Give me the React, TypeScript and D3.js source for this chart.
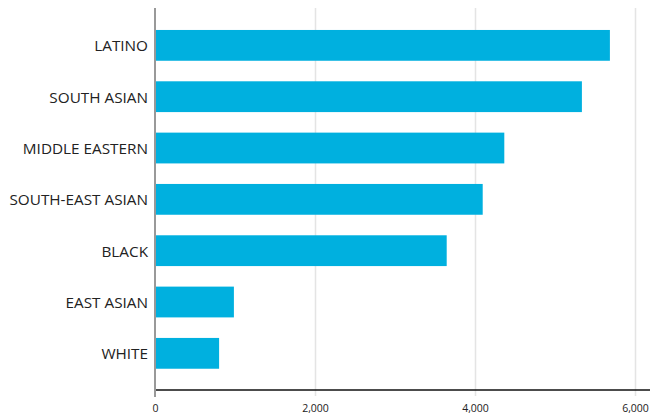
import React from "react";
import * as d3 from "d3";

const categories = ["LATINO", "SOUTH ASIAN", "MIDDLE EASTERN", "SOUTH-EAST ASIAN", "BLACK", "EAST ASIAN", "WHITE"];
const values = [5680, 5330, 4360, 4090, 3640, 980, 795];
const xTicks = [0, 2000, 4000, 6000];

const W = 650;
const H = 416;

export default function App() {
  const x = d3.scaleLinear().domain([0, 6000]).range([155.5, 635.5]);
  const y = d3.scaleBand<string>().domain(categories).range([19.7, 379]).paddingInner(0.4).paddingOuter(0.2);
  const fmt = d3.format(",");
  const top = 8;
  const axisY = 390;
  return (
    <svg width={W} height={H} style={{ position: "absolute", left: 0, top: 0 }}>
      {xTicks.slice(1).map((t) => (
        <line key={t} x1={x(t)} x2={x(t)} y1={top} y2={axisY + 6} stroke="#e4e4e4" strokeWidth={1.5} />
      ))}
      {categories.map((c, i) => (
        <rect key={c} x={156} y={y(c)} width={x(values[i]) - 156} height={y.bandwidth()} fill="#00B0DF" />
      ))}
      <line x1={156} x2={650} y1={axisY} y2={axisY} stroke="#111" strokeWidth={1.5} />
      <line x1={155} x2={155} y1={top} y2={axisY + 7} stroke="#999" strokeWidth={2} />
      {categories.map((c) => (
        <text key={c} x={148} y={(y(c) as number) + y.bandwidth() / 2} textAnchor="end" dominantBaseline="central"
          fontFamily="'Open Sans', sans-serif" fontSize={15.3} fill="#222">{c}</text>
      ))}
      {xTicks.map((t) => (
        <text key={t} x={x(t)} y={408} textAnchor="middle" dominantBaseline="central"
          fontFamily="'Open Sans', sans-serif" fontSize={10.5} fill="#222">{fmt(t)}</text>
      ))}
    </svg>
  );
}
